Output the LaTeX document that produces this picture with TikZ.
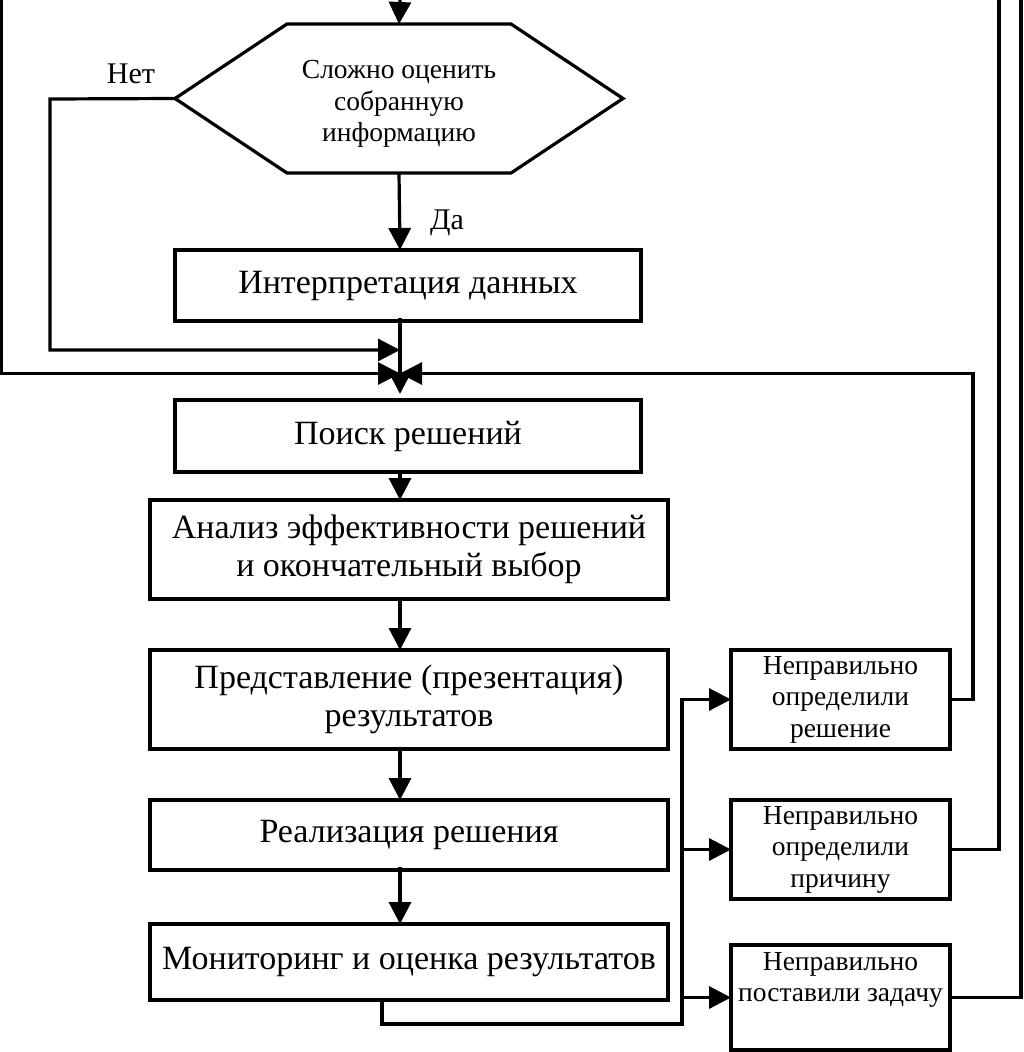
\documentclass[tikz,border=0pt]{standalone}
\usepackage{fontspec}
\setmainfont{Liberation Serif}
\usetikzlibrary{arrows.meta}
\newcommand{\bigf}{\fontsize{34}{38}\selectfont}
\newcommand{\smallf}{\fontsize{27.5}{31.5}\selectfont}
\tikzset{
  box/.style={draw, line width=3.2pt, rectangle, inner sep=0pt, outer sep=0pt, align=center, font=\bigf},
  ebox/.style={box, font=\smallf},
  arr/.style={-{Triangle[length=22pt,width=22pt]}, line width=3.2pt},
  ln/.style={line width=3.2pt},
  lbl/.style={inner sep=0pt, font=\bigf}
}
\begin{document}
\begin{tikzpicture}[x=1pt,y=-1pt]
\useasboundingbox (0,0) rectangle (1024,1052);
\coordinate (sp) at (400,0);
% hexagon
\node[inner sep=0pt, outer sep=0pt, minimum width=448pt, minimum height=149pt] (hex) at (399,98.5) {};
\node[inner sep=0pt, align=center, font=\smallf] (hext) at (399,104) {Сложно оценить\\собранную\\информацию};
\draw[ln, line join=miter] (hex.west) -- ([xshift=112pt]hex.north west) -- ([xshift=-112pt]hex.north east) -- (hex.east) -- ([xshift=-112pt]hex.south east) -- ([xshift=112pt]hex.south west) -- cycle;
% main boxes
\node[box, minimum width=466pt, minimum height=71pt] (interp) at (408,285.5) {Интерпретация данных};
\node[box, minimum width=466pt, minimum height=72pt] (poisk) at (408,436) {Поиск решений};
\node[box, minimum width=518pt, minimum height=99pt] (analiz) at (409,549.5) {Анализ эффективности решений\\и окончательный выбор};
\node[box, minimum width=518pt, minimum height=99pt] (pres) at (409,699.5) {Представление (презентация)\\результатов};
\node[box, minimum width=518pt, minimum height=70pt] (real) at (409,835) {Реализация решения};
\node[box, minimum width=518pt, minimum height=76pt] (monit) at (409,962) {Мониторинг и оценка результатов};
% error boxes
\node[ebox, minimum width=219pt, minimum height=99pt] (err1) at (840.5,699.5) {Неправильно\\определили\\решение};
\node[ebox, minimum width=219pt, minimum height=99pt] (err2) at (840.5,849.5) {Неправильно\\определили\\причину};
\node[ebox, minimum width=219pt, minimum height=105pt] (err3) at (840.5,997.5) {Неправильно\\поставили задачу\\\strut};
% labels
\node[lbl, font=\fontsize{30}{34}\selectfont] (net) at (131,74) {Нет};
\node[lbl, font=\fontsize{30}{34}\selectfont] (da) at (447,223) {Да};
% coordinates
\coordinate (topin) at (400,0);
\coordinate (nL) at (50,99);
\coordinate (j1) at (400,350);
\coordinate (lTop) at (1.6,0);
\coordinate (lB) at (1.6,373.5);
\coordinate (j2) at (400,373.5);
\coordinate (r1) at (973,699.5);
\coordinate (r2top) at (999,0);
\coordinate (r3top) at (1021,0);
\coordinate (bx) at (382,0);
\coordinate (busB) at (682,1024);
\coordinate (bus) at (682,0);
% connectors
\draw[arr] (topin) -- (hex.north);
\draw[arr] (hex.west) -- (nL) |- (j1);
\draw[arr] (hex.south) -- (interp.north -| sp);
\draw[arr] ([yshift=3pt]interp.south -| sp) -- ([yshift=6pt]poisk.north -| sp);
\draw[arr, line join=miter] (lTop) -- (lB) -- (j2);
\draw[arr, line join=miter] (err1.east) -- (r1) |- (j2);
\draw[arr] (poisk.south -| sp) -- (analiz.north -| sp);
\draw[arr] (analiz.south -| sp) -- (pres.north -| sp);
\draw[arr] (pres.south -| sp) -- (real.north -| sp);
\draw[arr] ([yshift=3pt]real.south -| sp) -- (monit.north -| sp);
\draw[arr, line join=miter] (monit.south -| bx) |- (busB) |- (err1.west);
\draw[arr] (err2.west -| bus) -- (err2.west);
\draw[arr] (err3.west -| bus) -- (err3.west);
\draw[ln, line join=miter] (err2.east) -| (r2top);
\draw[ln, line join=miter] (err3.east) -| (r3top);
\end{tikzpicture}
\end{document}
